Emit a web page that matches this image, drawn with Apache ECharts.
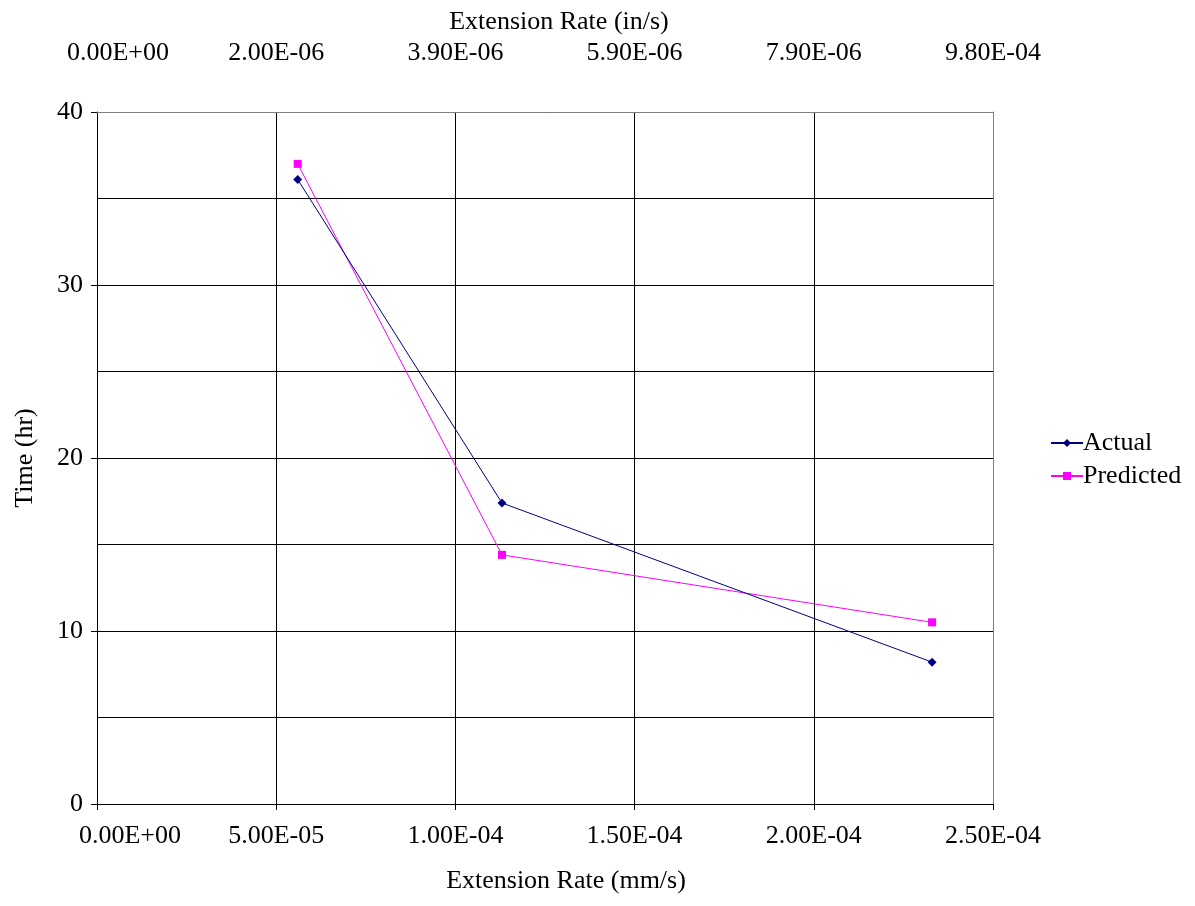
<!DOCTYPE html>
<html>
<head>
<meta charset="utf-8">
<script src="https://cdn.jsdelivr.net/npm/echarts@6/dist/echarts.min.js"></script>
<style>
  html, body { margin: 0; padding: 0; background: #fff; }
  #chart { width: 1195px; height: 906px; }
</style>
</head>
<body>
<div id="chart"></div>
<script>
// Extension rate (mm/s) for each test
const extensionRate = [5.6e-5, 1.13e-4, 2.33e-4];
// Time to failure (hr)
const actualTime = [36.1, 17.4, 8.2];
const predictedTime = [37.0, 14.4, 10.5];
// Tick labels for the two x axes
const mmLabels = ['0.00E+00', '5.00E-05', '1.00E-04', '1.50E-04', '2.00E-04', '2.50E-04'];
const inLabels = ['0.00E+00', '2.00E-06', '3.90E-06', '5.90E-06', '7.90E-06', '9.80E-04'];

const FONT = '"Liberation Serif", "Times New Roman", serif';
const STEP = 5e-5;
const idx = v => Math.round(v / STEP);

const chart = echarts.init(document.getElementById('chart'), null, { renderer: 'canvas' });

chart.setOption({
  backgroundColor: '#ffffff',
  animation: false,
  textStyle: { fontFamily: FONT, color: '#000' },
  grid: { left: 97, right: 202, top: 112, bottom: 102, containLabel: false },
  legend: {
    orient: 'vertical',
    left: 1045,
    top: 425,
    itemWidth: 32,
    itemHeight: 10,
    itemGap: 7,
    textStyle: { fontFamily: FONT, fontSize: 26, color: '#000', padding: [0, 0, 0, -5] },
    data: ['Actual', 'Predicted']
  },
  xAxis: [
    {
      type: 'value',
      position: 'bottom',
      min: 0, max: 2.5e-4, interval: STEP,
      name: 'Extension Rate (mm/s)',
      nameLocation: 'middle',
      nameGap: 64,
      nameTextStyle: { fontFamily: FONT, fontSize: 26, color: '#000', padding: [0, 0, 0, 42] },
      axisLine: { onZero: false, lineStyle: { color: '#000', width: 1 } },
      axisTick: { show: true, inside: false, length: 6, lineStyle: { color: '#000' } },
      axisLabel: {
        margin: 19,
        fontFamily: FONT, fontSize: 26, color: '#000',
        formatter: v => idx(v) === 0 ? '{first|' + mmLabels[0] + '}' : mmLabels[idx(v)],
        rich: { first: { fontFamily: FONT, fontSize: 26, color: '#000', padding: [0, 0, 0, 66] } }
      },
      splitLine: { show: true, lineStyle: { color: '#000', width: 1 } }
    },
    {
      type: 'value',
      position: 'top',
      min: 0, max: 2.5e-4, interval: STEP,
      name: 'Extension Rate (in/s)',
      nameLocation: 'middle',
      nameGap: 77,
      nameTextStyle: { fontFamily: FONT, fontSize: 26, color: '#000', padding: [0, 0, 0, 28] },
      axisLine: { onZero: false, lineStyle: { color: '#808080', width: 1 } },
      axisTick: { show: false },
      axisLabel: {
        margin: 46,
        fontFamily: FONT, fontSize: 26, color: '#000',
        formatter: v => idx(v) === 0 ? '{first|' + inLabels[0] + '}' : inLabels[idx(v)],
        rich: { first: { fontFamily: FONT, fontSize: 26, color: '#000', padding: [0, 0, 0, 42] } }
      },
      splitLine: { show: false }
    }
  ],
  yAxis: [
    {
      type: 'value',
      min: 0, max: 40, interval: 10,
      name: 'Time (hr)',
      nameLocation: 'middle',
      nameGap: 59,
      nameTextStyle: { fontFamily: FONT, fontSize: 26, color: '#000' },
      axisLine: { show: true, onZero: false, lineStyle: { color: '#000', width: 1 } },
      axisTick: { show: true, inside: false, length: 6, lineStyle: { color: '#000' } },
      axisLabel: { margin: 14, fontFamily: FONT, fontSize: 26, color: '#000' },
      splitLine: { show: true, lineStyle: { color: '#000', width: 1 } },
      minorTick: { show: false, splitNumber: 2 },
      minorSplitLine: { show: true, lineStyle: { color: '#000', width: 1 } }
    },
    {
      type: 'value',
      position: 'right',
      min: 0, max: 40, interval: 10,
      axisLine: { show: true, onZero: false, lineStyle: { color: '#808080', width: 1 } },
      axisTick: { show: false },
      axisLabel: { show: false },
      splitLine: { show: false }
    }
  ],
  series: [
    {
      name: 'Actual',
      type: 'line',
      xAxisIndex: 0, yAxisIndex: 0,
      data: extensionRate.map((x, i) => [x, actualTime[i]]),
      symbol: 'diamond',
      symbolSize: 9,
      showAllSymbol: true,
      lineStyle: { color: '#000080', width: 1 },
      itemStyle: { color: '#000080' },
      z: 3
    },
    {
      name: 'Predicted',
      type: 'line',
      xAxisIndex: 0, yAxisIndex: 0,
      data: extensionRate.map((x, i) => [x, predictedTime[i]]),
      symbol: 'rect',
      symbolSize: 8,
      showAllSymbol: true,
      lineStyle: { color: '#ff00ff', width: 1 },
      itemStyle: { color: '#ff00ff' },
      z: 2
    }
  ]
});
</script>
</body>
</html>
